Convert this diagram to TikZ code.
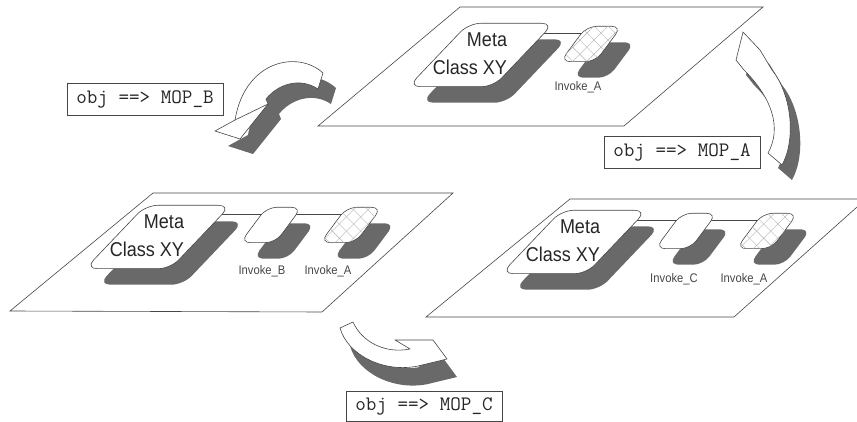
\documentclass[tikz,border=0pt]{standalone}
\usepackage{fontspec}
\usetikzlibrary{shadows,positioning,calc,patterns.meta}
\newfontfamily\helvnarrow[FakeStretch=0.9]{Liberation Sans}
\definecolor{ink}{RGB}{70,70,70}
\definecolor{halftone}{RGB}{105,105,105}
\pgfdeclarelayer{background}
\pgfsetlayers{background,main}

\begin{document}
\begin{tikzpicture}[x=1pt, y=-1pt,
    plane/.style={draw=ink, line width=0.6pt},
    % invisible frames; the slanted faces are drawn from their corners
    metabox/.style={minimum width=145pt, minimum height=63pt, inner sep=0pt},
    invbox/.style={minimum width=61pt, minimum height=35pt, inner sep=0pt},
    face/.style={draw=ink, fill=white, line width=0.6pt, rounded corners=#1,
                 drop shadow={shadow xshift=13pt, shadow yshift=-16pt,
                              fill=halftone, opacity=1}},
    hatch/.style={postaction={pattern={Lines[angle=45, distance=10pt, line width=0.4pt]},
                              pattern color=black!30},
                  postaction={pattern={Lines[angle=-45, distance=10pt, line width=0.4pt]},
                              pattern color=black!30}},
    mtxt/.style={font=\helvnarrow\fontsize{20}{28}\selectfont, text=black!85,
                 align=right, inner sep=0pt},
    lbl/.style={font=\helvnarrow\fontsize{12.5}{12.5}\selectfont, text=ink, inner sep=0pt},
    cmd/.style={draw=ink, fill=white, line width=0.6pt, text=black!85,
                font=\ttfamily\fontsize{20.5}{20.5}\selectfont,
                minimum width=156pt, minimum height=32pt, inner sep=0pt},
    link/.style={draw=ink, line width=0.6pt},
    curl/.style={draw=ink, fill=white, line width=0.6pt, line join=round},
    curlsh/.style={fill=halftone}]

  \useasboundingbox (0,0) rectangle (857,422);
  \clip (0,0) rectangle (857,422);

  % ── planes ───────────────────────────────────────────────
  \draw[plane] (460,7) -- (763,7) -- (624,126) -- (318,126) -- cycle;
  \draw[plane] (153,193) -- (453,193) -- (322,312) -- (10,311) -- cycle;
  \draw[plane] (570,199) -- (866,199) -- (734,317) -- (426,317) -- cycle;

  % ── frames ───────────────────────────────────────────────
  \node[metabox] (m1) at (481,55) {};
  \node[invbox] (a1) at (591,44) {};

  \node[metabox] (m2) at (158,237) {};
  \node[invbox] (b2) at (271,225) {};
  \node[invbox] (a2) at (351,225) {};

  \node[metabox] (m3) at (574,242) {};
  \node[invbox] (c3) at (686,231) {};
  \node[invbox] (a3) at (767,231) {};

  % links run behind the faces
  \begin{pgfonlayer}{background}
    \draw[link] ($(m1.center |- a1.north)+(0,7)$) -- ($(a1.north)+(0,7)$);
    \draw[link] ($(m2.center |- b2.north)+(0,7)$) -- ($(b2.north)+(0,7)$);
    \draw[link] ($(b2.north)+(0,7)$) -- ($(a2.north)+(0,7)$);
    \draw[link] ($(m3.center |- c3.north)+(0,7)$) -- ($(c3.north)+(0,7)$);
    \draw[link] ($(c3.north)+(0,7)$) -- ($(a3.north)+(0,7)$);
  \end{pgfonlayer}

  % ── slanted faces ────────────────────────────────────────
  \foreach \n in {m1,m2,m3}
    \path[face=12pt] (\n.south west) -- ++(85,0) -- (\n.north east) -- ++(-85,0) -- cycle;
  \foreach \n in {b2,c3}
    \path[face=10pt] (\n.south west) -- ++(35,0) -- (\n.north east) -- ++(-35,0) -- cycle;
  \foreach \n in {a1,a2,a3}
    \path[face=10pt, hatch] (\n.south west) -- ++(35,0) -- (\n.north east) -- ++(-35,0) -- cycle;

  % ── texts ────────────────────────────────────────────────
  \node[mtxt, xshift=-11pt, yshift=1pt] (t1) at (m1) {Meta\\Class XY};
  \node[mtxt, xshift=-11pt, yshift=1pt] (t2) at (m2) {Meta\\Class XY};
  \node[mtxt, xshift=-11pt, yshift=1pt] (t3) at (m3) {Meta\\Class XY};

  \node[lbl, below=20pt of a1.south, xshift=-13pt] (la1) {Invoke\_A};
  \node[lbl, below=23pt of b2.south, xshift=-9pt] (lb2) {Invoke\_B};
  \node[lbl, below=23pt of a2.south, xshift=-23pt] (la2) {Invoke\_A};
  \node[lbl, below=25pt of c3.south, xshift=-12pt] (lc3) {Invoke\_C};
  \node[lbl, below=25pt of a3.south, xshift=-23pt] (la3) {Invoke\_A};

  % ── curled arrows ────────────────────────────────────────
  \fill[curlsh, shift={(13,15)}] (323,73) .. controls (298,50) and (245,60) .. (235,120)
    -- (215,131) -- (240,139) -- (268,104) -- (266,99)
    .. controls (278,84) and (300,77) .. (318,89) -- cycle;
  \draw[curl] (323,73) .. controls (298,50) and (245,60) .. (235,120)
    -- (215,131) -- (240,139) -- (268,104) -- (266,99)
    .. controls (278,84) and (300,77) .. (318,89) -- cycle;
  \draw[curl, fill=none] (235,120) -- (268,104);

  \fill[curlsh, shift={(10,15)}] (768,153) .. controls (782,128) and (772,98) .. (744,70)
    -- (736,60) -- (743,32) -- (760,50) -- (772,70)
    .. controls (792,95) and (796,140) .. (782,165) -- cycle;
  \draw[curl] (768,153) .. controls (782,128) and (772,98) .. (744,70)
    -- (736,60) -- (743,32) -- (760,50) -- (772,70)
    .. controls (792,95) and (796,140) .. (782,165) -- cycle;

  \fill[curlsh, shift={(10,18)}] (340,328) .. controls (348,356) and (385,373) .. (418,366)
    -- (447,359) -- (433,340) -- (395,340) -- (410,349)
    .. controls (385,354) and (362,342) .. (353,322) -- cycle;
  \draw[curl] (340,328) .. controls (348,356) and (385,373) .. (418,366)
    -- (447,359) -- (433,340) -- (395,340) -- (410,349)
    .. controls (385,354) and (362,342) .. (353,322) -- cycle;

  % ── messages ─────────────────────────────────────────────
  \node[cmd] (cb) at (145,99) {obj ==> MOP\_B};
  \node[cmd] (ca) at (682,152) {obj ==> MOP\_A};
  \node[cmd, minimum height=30pt] (cc) at (424,406) {obj ==> MOP\_C};

\end{tikzpicture}
\end{document}
